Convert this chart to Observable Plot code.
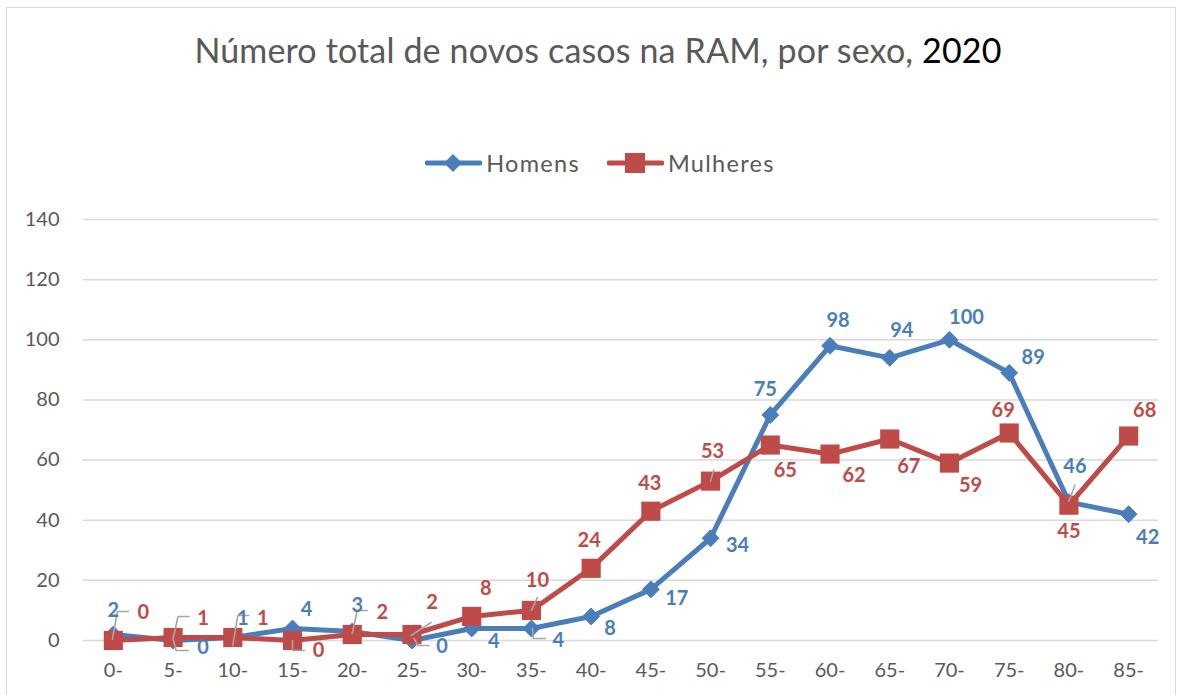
<!DOCTYPE html>
<html>
<head>
<meta charset="utf-8">
<script src="https://cdn.jsdelivr.net/npm/d3@7"></script>
<script src="https://cdn.jsdelivr.net/npm/@observablehq/plot@0.6"></script>
<style>
  html, body { margin: 0; padding: 0; background: #fff; }
  #wrap { position: relative; width: 1184px; height: 695px; overflow: hidden; font-family: Lato, "Open Sans", sans-serif; }
  #frame { position: absolute; left: 6px; top: 7px; width: 1170px; height: 720px; border: 1.5px solid #D9D9D9; box-sizing: border-box; }
  #title { position: absolute; left: 0; width: 1196px; top: 29px; text-align: center; font-size: 34px; letter-spacing: 0.15px; color: #595959; white-space: nowrap; }
  #title .yr { color: #000; }
  #legend { position: absolute; left: 0; width: 1200px; top: 148px; display: flex; justify-content: center; align-items: center; font-size: 23.5px; letter-spacing: 1.3px; color: #595959; }
  #legend .item { display: flex; align-items: center; }
  #legend .item + .item { margin-left: 27px; }
  #legend svg { margin-right: 4px; }
  #chart { position: absolute; left: 0; top: 195px; }
</style>
</head>
<body>
<div id="wrap">
  <div id="frame"></div>
  <div id="title">Número total de novos casos na RAM, por sexo, <span class="yr">2020</span></div>
  <div id="legend"></div>
  <div id="chart"></div>
</div>
<script>
// ---- data ----
const categorias = ["0-","5-","10-","15-","20-","25-","30-","35-","40-","45-","50-","55-","60-","65-","70-","75-","80-","85-"];
const homens   = [2, 0, 1, 4, 3, 0, 4, 4, 8, 17, 34, 75, 98, 94, 100, 89, 46, 42];
const mulheres = [0, 1, 1, 0, 2, 2, 8, 10, 24, 43, 53, 65, 62, 67, 59, 69, 45, 68];
const yTicks = [0, 20, 40, 60, 80, 100, 120, 140];
const seriesNames = ["Homens", "Mulheres"];

// ---- styling / label layout ----
const colors = {Homens: "#4A7EBB", Mulheres: "#BE4B48"};
const labelOffsets = {
  Homens: [[0,-24],[30,7],[10,-19],[14,-19],[5,-26],[30,6],[22,13],[27,12],[19,12],[26,9],[27,7],[-5,-25],[8,-25],[12,-27],[17,-22],[24,-15],[6,-36],[19,23]],
  Mulheres: [[30,-28],[30,-19],[30,-19],[26,10],[30,-22],[20,-32],[14,-28],[6,-30],[-2,-28],[-1,-28],[2,-30],[15,26],[24,22],[19,28],[21,23],[-6,-22],[0,26],[16,-25]]
};
const leaders = [
  {s:"Mulheres", i:0, path:[[-1,-1],[4,-29],[15,-29]]},
  {s:"Mulheres", i:1, path:[[0,1],[5,-21],[16,-21]]},
  {s:"Homens", i:1, path:[[0,-2],[3,10],[15,10]]},
  {s:"Mulheres", i:2, path:[[0,8],[5,-22],[16,-22]]},
  {s:"Mulheres", i:3, path:[[0,0],[0,10],[12,10]]},
  {s:"Mulheres", i:4, path:[[0,-1],[5,-24],[15,-24]]},
  {s:"Mulheres", i:5, path:[[-1,1],[19,-12]]},
  {s:"Homens", i:5, path:[[2,-2],[6,5],[17,5]]},
  {s:"Mulheres", i:7, path:[[0,0],[6,-13]]},
  {s:"Homens", i:7, path:[[1,0],[2,10],[14,10]]},
  {s:"Mulheres", i:10, path:[[0,0],[3,-11]]},
  {s:"Homens", i:16, path:[[0,-1],[6,-17]]}
];

const rows = [];
categorias.forEach((c, i) => {
  rows.push({serie: "Homens", cat: c, i, v: homens[i]});
  rows.push({serie: "Mulheres", cat: c, i, v: mulheres[i]});
});
const H = rows.filter(d => d.serie === "Homens");
const M = rows.filter(d => d.serie === "Mulheres");

const labelMarks = rows.map(d => {
  const [dx, dy] = labelOffsets[d.serie][d.i];
  return Plot.text([d], {x: "cat", y: "v", text: d => String(d.v), dx, dy,
    fill: colors[d.serie], fontWeight: "bold", fontSize: 20});
});

const leaderMarks = leaders.map(L => {
  const d = rows.find(r => r.serie === L.s && r.i === L.i);
  return Plot.vector([d], {x: "cat", y: "v", anchor: "start", length: 10, rotate: 0,
    stroke: "#A6A6A6", strokeWidth: 1.6, fill: "none",
    shape: {draw(ctx) {
      ctx.moveTo(L.path[0][0], L.path[0][1]);
      for (let k = 1; k < L.path.length; k++) ctx.lineTo(L.path[k][0], L.path[k][1]);
    }}});
});

const chart = Plot.plot({
  width: 1184,
  height: 500,
  marginLeft: 83,
  marginRight: 26,
  marginTop: 24,
  marginBottom: 55,
  style: {fontFamily: "Lato, 'Open Sans', sans-serif", background: "transparent"},
  x: {type: "point", domain: categorias, padding: 0.5, round: false, label: null},
  y: {domain: [0, 140], label: null},
  marks: [
    Plot.gridY(yTicks, {stroke: "#D9D9D9", strokeOpacity: 1, strokeWidth: 1.5}),
    Plot.axisY(yTicks, {tickSize: 0, tickPadding: 24, fontSize: 20, color: "#595959", label: null}),
    Plot.axisX({tickSize: 0, tickPadding: 22, fontSize: 20, color: "#595959", label: null}),
    Plot.line(H, {x: "cat", y: "v", stroke: colors.Homens, strokeWidth: 5}),
    Plot.line(M, {x: "cat", y: "v", stroke: colors.Mulheres, strokeWidth: 5}),
    Plot.dot(H, {x: "cat", y: "v", symbol: "diamond2", r: 7.6, fill: colors.Homens, stroke: colors.Homens, strokeWidth: 1}),
    Plot.dot(M, {x: "cat", y: "v", symbol: "square", r: 10.8, fill: colors.Mulheres, stroke: "none"}),
    ...leaderMarks,
    ...labelMarks
  ]
});
document.getElementById("chart").appendChild(chart);

// ---- legend (HTML, above the svg) ----
const legend = document.getElementById("legend");
seriesNames.forEach(name => {
  const item = document.createElement("div");
  item.className = "item";
  const sym = name === "Homens"
    ? `<path d="M${28-9},15 L28,6 L${28+9},15 L28,24 Z" fill="${colors[name]}"/>`
    : `<rect x="${28-10}" y="5" width="20" height="20" fill="${colors[name]}"/>`;
  item.innerHTML = `<svg width="57" height="30"><line x1="2" y1="15" x2="55" y2="15" stroke="${colors[name]}" stroke-width="5" stroke-linecap="round"/>${sym}</svg><span>${name}</span>`;
  legend.appendChild(item);
});
</script>
</body>
</html>
